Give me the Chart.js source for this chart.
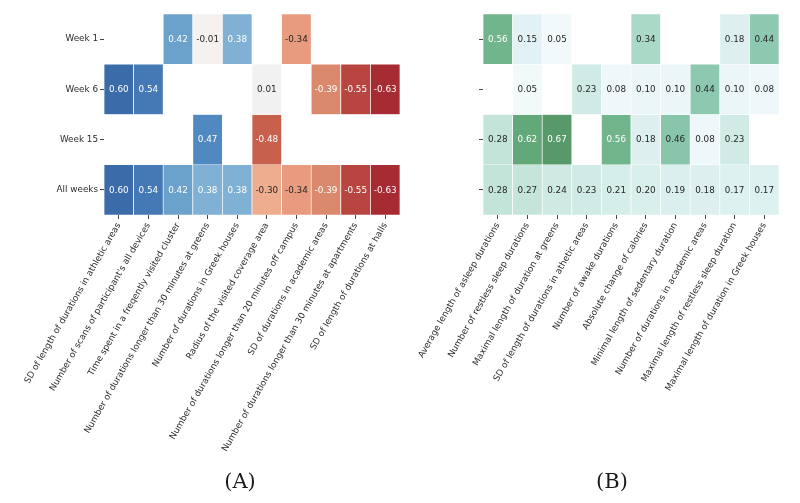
<!DOCTYPE html>
<html>
<head>
<meta charset="utf-8">
<script src="https://cdn.jsdelivr.net/npm/chart.js@4"></script>
<style>
  body { margin: 0; background: #fff; }
  #wrap { position: relative; width: 800px; height: 503px; overflow: hidden; }
  canvas { position: absolute; top: 0; }
  #chartA { left: 0; }
  #chartB { left: 400px; }
  .cap { position: absolute; top: 469px; font-family: "DejaVu Serif", serif; font-size: 21px; color: #1a1a1a; transform: translateX(-50%); }
</style>
</head>
<body>
<div id="wrap">
  <canvas id="chartA" width="400" height="503"></canvas>
  <canvas id="chartB" width="400" height="503"></canvas>
  <div class="cap" style="left:240px">(A)</div>
  <div class="cap" style="left:612px">(B)</div>
</div>
<script>
// filas (semanas)
const filas = ["Week 1", "Week 6", "Week 15", "All weeks"];

// panel A
const columnasA = [
  "SD of length of durations in athletic areas",
  "Number of scans of participant's all devices",
  "Time spent in a freqently visited cluster",
  "Number of durations longer than 30 minutes at greens",
  "Number of durations in Greek houses",
  "Radius of the visited coverage area",
  "Number of durations longer than 20 minutes off campus",
  "SD of durations in academic areas",
  "Number of durations longer than 30 minutes at apartments",
  "SD of length of durations at halls",
];
const semana1A = [null, null, 0.42, -0.01, 0.38, null, -0.34, null, null, null];
const semana6A = [0.60, 0.54, null, null, null, 0.01, null, -0.39, -0.55, -0.63];
const semana15A = [null, null, null, 0.47, null, -0.48, null, null, null, null];
const todasA = [0.60, 0.54, 0.42, 0.38, 0.38, -0.30, -0.34, -0.39, -0.55, -0.63];

// panel B
const columnasB = [
  "Average length of asleep durations",
  "Number of restless sleep durations",
  "Maximal length of duration at greens",
  "SD of length of durations in athetic areas",
  "Number of awake durations",
  "Absolute change of calories",
  "Minimal length of sedentary duration",
  "Number of durations in academic areas",
  "Maximal length of restless sleep duration",
  "Maximal length of duration in Greek houses",
];
const semana1B = [0.56, 0.15, 0.05, null, null, 0.34, null, null, 0.18, 0.44];
const semana6B = [null, 0.05, null, 0.23, 0.08, 0.10, 0.10, 0.44, 0.10, 0.08];
const semana15B = [0.28, 0.62, 0.67, null, 0.56, 0.18, 0.46, 0.08, 0.23, null];
const todasB = [0.28, 0.27, 0.24, 0.23, 0.21, 0.20, 0.19, 0.18, 0.17, 0.17];

// escalas de color (tipo RdBu y BuGn)
const paradasRdBu = [
  [-0.65, "#a2252f"], [-0.55, "#b8453f"], [-0.48, "#c8604e"], [-0.39, "#da896d"],
  [-0.34, "#e89b7e"], [-0.30, "#eead8e"], [0, "#f4f3f2"], [0.38, "#80b0d4"],
  [0.42, "#6aa2cc"], [0.47, "#5089c0"], [0.54, "#4479b5"], [0.60, "#3b6ca9"],
];
const paradasBuGn = [
  [0, "#f7fbfc"], [0.08, "#eef7f9"], [0.15, "#e2f2f4"], [0.2, "#d9efec"],
  [0.28, "#c2e4d9"], [0.34, "#abd9c8"], [0.44, "#8dc8b1"], [0.56, "#70b58b"],
  [0.62, "#62a878"], [0.67, "#58996a"],
];

function hexARgb(h) {
  return [1, 3, 5].map((i) => parseInt(h.slice(i, i + 2), 16));
}

function colorDe(paradas, v) {
  if (v <= paradas[0][0]) return paradas[0][1];
  for (let i = 1; i < paradas.length; i++) {
    if (v <= paradas[i][0]) {
      const [v0, c0] = paradas[i - 1];
      const [v1, c1] = paradas[i];
      const t = (v - v0) / (v1 - v0);
      const a = hexARgb(c0);
      const b = hexARgb(c1);
      const c = a.map((x, k) => Math.round(x + (b[k] - x) * t));
      return `rgb(${c[0]}, ${c[1]}, ${c[2]})`;
    }
  }
  return paradas[paradas.length - 1][1];
}

const fuente = { family: "'DejaVu Sans', sans-serif", size: 8.8 };

const etiquetasCeldas = {
  id: "etiquetasCeldas",
  afterDatasetsDraw(chart, args, opts) {
    const ctx = chart.ctx;
    ctx.save();
    ctx.font = `${fuente.size}px ${fuente.family}`;
    ctx.textAlign = "center";
    ctx.textBaseline = "middle";
    chart.data.datasets.forEach((ds, i) => {
      const meta = chart.getDatasetMeta(i);
      ds.valores.forEach((v, j) => {
        if (v === null) return;
        const el = meta.data[j];
        ctx.fillStyle = Math.abs(v) >= opts.umbral ? "#ffffff" : "#262626";
        ctx.fillText(v.toFixed(2), el.x, (el.y + el.base) / 2 + 0.5);
      });
    });
    ctx.restore();
  },
};

function crearHeatmap(id, columnas, valores, paradas, umbral, mostrarFilas, anchoY, derecha) {
  const config = {
    type: "bar",
    data: {
      labels: columnas,
      datasets: filas.map((fila, r) => ({
        label: fila,
        valores: valores[r],
        data: valores[r].map((v) => (v === null ? null : [r, r + 1])),
        backgroundColor: valores[r].map((v) => (v === null ? "rgba(0,0,0,0)" : colorDe(paradas, v))),
        borderColor: "#ffffff",
        borderWidth: 0.7,
        borderSkipped: false,
        barPercentage: 1,
        categoryPercentage: 1,
        grouped: false,
      })),
    },
    options: {
      responsive: false,
      animation: false,
      events: [],
      layout: { padding: { top: 14, right: derecha, left: 0, bottom: 0 } },
      plugins: {
        legend: { display: false },
        tooltip: { enabled: false },
        etiquetasCeldas: { umbral: umbral },
      },
      scales: {
        x: {
          type: "category",
          offset: true,
          grid: { display: true, offset: false, drawOnChartArea: false, tickLength: 4, color: "#444" },
          border: { display: false },
          ticks: { autoSkip: false, minRotation: 60, maxRotation: 60, padding: 2, color: "#2b2b2b", font: fuente },
          afterFit(scale) {
            scale.height = 288;
            scale.paddingLeft = 0;
            scale.paddingRight = 0;
          },
        },
        y: {
          type: "linear",
          min: 0,
          max: 4,
          reverse: true,
          afterBuildTicks(scale) {
            scale.ticks = filas.map((_, i) => ({ value: i + 0.5 }));
          },
          grid: { display: true, drawOnChartArea: false, tickLength: 4, color: "#444" },
          border: { display: false },
          ticks: {
            padding: 2,
            color: "#2b2b2b",
            font: fuente,
            callback: (value, index) => (mostrarFilas ? filas[index] : ""),
          },
          afterFit(scale) {
            scale.width = anchoY;
            scale.paddingTop = 0;
            scale.paddingBottom = 0;
          },
        },
      },
    },
    plugins: [etiquetasCeldas],
  };
  return new Chart(document.getElementById(id), config);
}

crearHeatmap("chartA", columnasA, [semana1A, semana6A, semana15A, todasA], paradasRdBu, 0.36, true, 104, 0);
crearHeatmap("chartB", columnasB, [semana1B, semana6B, semana15B, todasB], paradasBuGn, 0.5, false, 83, 21);
</script>
</body>
</html>
